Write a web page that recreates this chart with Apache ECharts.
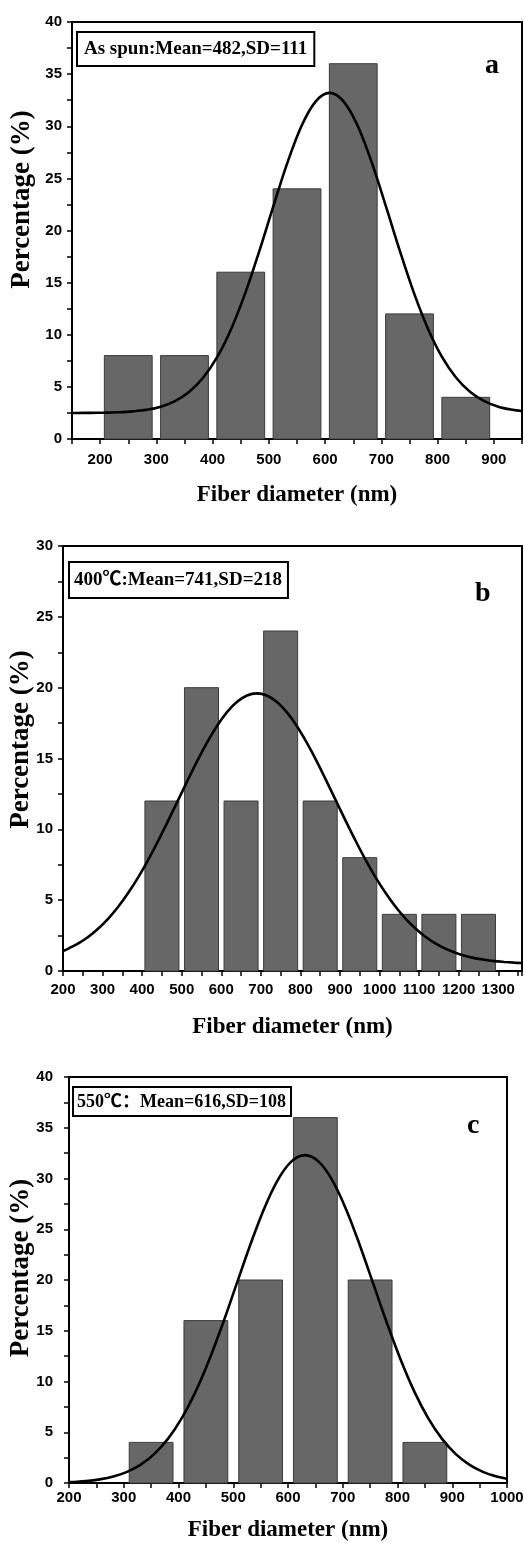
<!DOCTYPE html>
<html>
<head>
<meta charset="utf-8">
<script src="https://cdn.jsdelivr.net/npm/echarts@6/dist/echarts.min.js"></script>
<style>
html,body{margin:0;padding:0;background:#fff;}
#chart{width:524px;height:1543px;}
</style>
</head>
<body>
<div id="chart"></div>
<script>
// ---------- DATA ----------
// Panel a (as spun)
const binCentersA = [250, 350, 450, 550, 650, 750, 850];
const pctA = [8, 8, 16, 24, 36, 12, 4];
const fitXA = [150,158,183,208,233,258,283,308,333,358,383,408,433,458,483,508,533,558,583,608,633,658,683,708,733,758,783,808,833,858,883,908,933,950];
const fitYA = [2.50,2.50,2.51,2.53,2.57,2.65,2.80,3.10,3.63,4.50,5.87,7.85,10.56,13.99,18.02,22.34,26.51,30.03,32.37,33.20,32.37,30.03,26.51,22.34,18.02,13.99,10.56,7.85,5.87,4.50,3.63,3.10,2.80,2.68];
// Panel b (400 C)
const binCentersB = [450, 550, 650, 750, 850, 950, 1050, 1150, 1250];
const pctB = [12, 20, 12, 24, 12, 8, 4, 4, 4];
const fitXB = [200,215,240,265,290,315,340,365,390,415,440,465,490,515,540,565,590,615,640,665,690,715,740,765,790,815,840,865,890,915,940,965,990,1015,1040,1065,1090,1115,1140,1165,1190,1215,1240,1265,1290,1315,1340,1360];
const fitYB = [1.41,1.60,1.97,2.44,3.02,3.72,4.55,5.52,6.61,7.83,9.16,10.56,12.01,13.46,14.87,16.17,17.33,18.29,19.00,19.45,19.60,19.45,19.00,18.29,17.33,16.17,14.87,13.46,12.01,10.56,9.16,7.83,6.61,5.52,4.55,3.72,3.02,2.44,1.97,1.60,1.31,1.08,0.91,0.79,0.70,0.64,0.59,0.56];
// Panel c (550 C)
const binCentersC = [350, 450, 550, 650, 750, 850];
const pctC = [4, 16, 20, 36, 20, 4];
const fitXC = [200,206,231,256,281,306,331,356,381,406,431,456,481,506,531,556,581,606,631,656,681,706,731,756,781,806,831,856,881,906,931,956,981,1000];
const fitYC = [0.08,0.10,0.19,0.36,0.64,1.10,1.81,2.87,4.37,6.39,8.98,12.12,15.72,19.59,23.45,26.98,29.82,31.66,32.30,31.66,29.82,26.98,23.45,19.59,15.72,12.12,8.98,6.39,4.37,2.87,1.81,1.10,0.64,0.41];

const labelA = 'As spun:Mean=482,SD=111';
const labelB = '400℃:Mean=741,SD=218';
const labelC = '550℃：Mean=616,SD=108';
const xTitle = 'Fiber diameter (nm)';
const yTitle = 'Percentage (%)';

// ---------- STYLE ----------
const SERIF = '"Liberation Serif","Times New Roman",Times,"Noto Sans CJK SC",serif';
const SANS = '"Liberation Sans",Arial,Helvetica,sans-serif';
const BAR_FILL = '#676767';
const BAR_STROKE = '#3c3c3c';

function pairs(xs, ys){ return xs.map((x,i)=>[x, ys[i]]); }

function barRender(halfW){
  return function(params, api){
    const x = api.value(0), y = api.value(1);
    const p0 = api.coord([x - halfW, y]);
    const p1 = api.coord([x + halfW, 0]);
    return {
      type: 'rect',
      shape: {x: p0[0], y: p0[1], width: p1[0]-p0[0], height: p1[1]-p0[1]},
      style: {fill: BAR_FILL, stroke: BAR_STROKE, lineWidth: 1}
    };
  };
}

const grids = [
  {left: 72, right: 2, top: 22, height: 417},
  {left: 63, right: 2, top: 546, height: 425},
  {left: 69, right: 17, top: 1077, height: 406}
].map(g => Object.assign({show: true, borderColor: '#000', borderWidth: 2, backgroundColor: 'transparent',
  containLabel: false, outerBoundsMode: 'none'}, g));

const xRanges = [[150, 950], [200, 1360], [200, 1000]];
const yMax = [40, 30, 40];
const xNameGap = [45, 45, 36];
const yNameGap = [36, 28, 34];
const yNameShift = [62, 38, 24];
const yLabelMargin = [10, 10, 16];
const xLabelMargin = [13, 11, 7];

const xAxes = xRanges.map((r, i) => ({
  type: 'value', gridIndex: i, min: r[0], max: r[1], interval: 50,
  name: xTitle, nameLocation: 'middle', nameGap: xNameGap[i], nameMoveOverlap: false,
  nameTextStyle: {fontFamily: SERIF, fontWeight: 'bold', fontSize: 23, color: '#000'},
  axisLine: {show: true, onZero: false, lineStyle: {color: '#000', width: 2}},
  axisTick: {show: true, inside: false, length: 5, lineStyle: {color: '#000', width: 1.5}},
  axisLabel: {show: true, margin: xLabelMargin[i], fontFamily: SANS, fontWeight: 'bold', fontSize: 15, color: '#000',
    showMinLabel: true, showMaxLabel: true, hideOverlap: false,
    formatter: v => (Math.round(v) % 100 === 0 ? String(Math.round(v)) : '')},
  splitLine: {show: false}
}));

const yAxes = yMax.map((m, i) => ({
  type: 'value', gridIndex: i, min: 0, max: m, interval: 2.5,
  name: yTitle, nameLocation: 'middle', nameGap: yNameGap[i], nameMoveOverlap: false,
  nameTextStyle: {fontFamily: SERIF, fontWeight: 'bold', fontSize: 27, color: '#000', padding: [0, 0, 0, yNameShift[i]]},
  axisLine: {show: true, onZero: false, lineStyle: {color: '#000', width: 2}},
  axisTick: {show: true, inside: false, length: 5, lineStyle: {color: '#000', width: 1.5}},
  axisLabel: {show: true, margin: yLabelMargin[i], fontFamily: SANS, fontWeight: 'bold', fontSize: 15, color: '#000',
    showMinLabel: true, showMaxLabel: true,
    formatter: v => (Math.abs(v % 5) < 1e-6 ? String(Math.round(v)) : '')},
  splitLine: {show: false}
}));

const barHalf = [42.5, 43, 40];
const barSets = [[binCentersA, pctA], [binCentersB, pctB], [binCentersC, pctC]];
const fitSets = [[fitXA, fitYA], [fitXB, fitYB], [fitXC, fitYC]];

const series = [];
barSets.forEach((s, i) => {
  series.push({
    type: 'custom', xAxisIndex: i, yAxisIndex: i,
    renderItem: barRender(barHalf[i]),
    encode: {x: 0, y: 1},
    data: pairs(s[0], s[1]),
    silent: true, z: 2
  });
});
fitSets.forEach((s, i) => {
  series.push({
    type: 'line', xAxisIndex: i, yAxisIndex: i,
    data: pairs(s[0], s[1]),
    smooth: 0.35, showSymbol: false, symbol: 'none',
    lineStyle: {color: '#000', width: 2.6},
    silent: true, z: 3
  });
});

function boxText(txt, x, y, size, pad){
  return {
    type: 'text', left: x, top: y, z: 10,
    style: {
      text: txt, font: 'bold ' + size + 'px ' + SERIF, fill: '#000',
      backgroundColor: '#fff', borderColor: '#000', borderWidth: 2,
      padding: pad
    }
  };
}
function panelLetter(ch, x, y){
  return {
    type: 'text', left: x, top: y, z: 10,
    style: {text: ch, font: 'bold 28px ' + SERIF, fill: '#000'}
  };
}

const option = {
  animation: false,
  backgroundColor: '#fff',
  grid: grids,
  xAxis: xAxes,
  yAxis: yAxes,
  series: series,
  graphic: [
    boxText(labelA, 76, 31, 19, [7, 6, 6, 6]),
    boxText(labelB, 68, 561, 19, [8, 5, 7, 4]),
    boxText(labelC, 72, 1086, 18, [5, 4, 4, 3]),
    panelLetter('a', 485, 52),
    panelLetter('b', 475, 580),
    panelLetter('c', 467, 1112)
  ]
};

const chart = echarts.init(document.getElementById('chart'), null, {renderer: 'canvas'});
chart.setOption(option);
</script>
</body>
</html>
